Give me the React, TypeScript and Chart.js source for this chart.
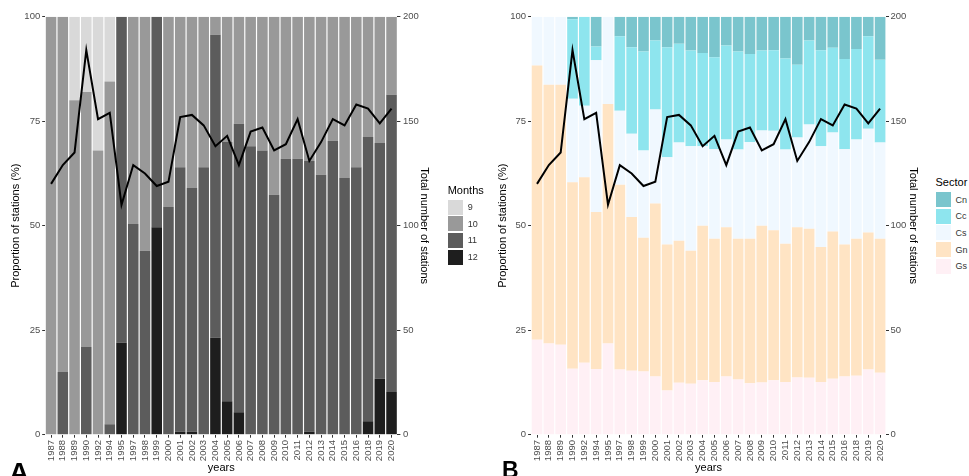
import React, { useEffect, useRef } from "react";
import { Chart, registerables } from "chart.js";

Chart.register(...registerables);

const years = ["1987","1988","1989","1990","1992","1994","1995","1997","1998","1999","2000","2001","2002","2003","2004","2005","2006","2007","2008","2009","2010","2011","2012","2013","2014","2015","2016","2018","2019","2020"];

// Panel A: proportion of stations by number of months (%)
const months9 = [0,0,20,18,32,15.5,0,0,0,0,0,0,0,0,0,0,0,0,0,0,0,0,0,0,0,0,0,0,0,0];
const months10 = [100,85,80,61,68,82,0,49.6,56,0,45.5,36,41,36,4.3,30,25.6,31,32,42.6,34,34,34.5,37.8,29.7,38.6,36,28.8,30.2,18.7];
const months11 = [0,15,0,21,0,2.5,78,50.4,44,50.4,54.5,63.3,58.3,64,72.5,62,69,69,68,57.4,66,66,64.8,62.2,70.3,61.4,64,68,56.4,71.1];
const months12 = [0,0,0,0,0,0,22,0,0,49.6,0,0.7,0.7,0,23.2,8,5.4,0,0,0,0,0,0.7,0,0,0,0,3.2,13.4,10.2];

// Total number of stations (right axis)
const totalStations = [120,129,135,184,151,154,110,129,125,119,121,152,153,148,138,143,129,145,147,136,139,151,131,140,151,148,158,156,149,156];

// Panel B: proportion of stations by sector (%)
const sectorGs = [22.7,21.8,21.5,15.8,17.2,15.7,21.8,15.6,15.3,15.1,13.9,10.6,12.4,12.2,13,12.6,13.9,13.2,12.3,12.5,13,12.6,13.7,13.6,12.6,13.4,13.9,14.1,15.6,14.8];
const sectorGn = [65.6,61.9,62.2,44.6,44.4,37.6,57.3,44.2,36.8,32,41.4,34.9,34,31.8,37,34.3,35.7,33.7,34.6,37.5,35.9,33.1,35.9,35.7,32.3,35.2,31.6,32.8,32.8,32.1];
const sectorCs = [11.7,16.3,16.3,20,17.1,36.3,20.9,17.7,19.9,20.9,22.5,20.9,23.5,25,19,21.4,21,21.3,23.1,22.8,23.8,22.5,21.5,24.9,24.1,23.7,22.8,23.7,24.8,23];
const sectorCc = [0,0,0,19,21.3,3.3,0,17.8,20.7,23.7,16.5,26.3,23.6,22.9,22.3,22,22.5,23.5,21.1,19.1,19.3,21.8,17.4,20.1,23,20.3,21.6,21.7,22.1,19.8];
const sectorCn = [0,0,0,0.6,0,7.1,0,4.7,7.3,8.3,5.7,7.3,6.5,8.1,8.7,9.7,6.9,8.3,8.9,8.1,8,10,11.5,5.7,8,7.4,10.1,7.7,4.7,10.3];

const monthLabels = ["9", "10", "11", "12"];
const monthColors = ["#D9D9D9", "#999999", "#5C5C5C", "#1E1E1E"];
const sectorLabels = ["Cn", "Cc", "Cs", "Gn", "Gs"];
const sectorColors = ["#7AC5CD", "#8EE5EE", "#F0F8FF", "#FFE4C4", "#FFF0F5"];

const FONT = "'Liberation Sans', Arial, Helvetica, sans-serif";

type Geo = {
  width: number; height: number;
  leftW: number; rightW: number; topPad: number; bottomH: number;
  leftTitlePad: number; rightTitlePad: number; leftTickPad: number; rightTickPad: number;
};

function buildConfig(bars: { label: string; data: number[]; color: string }[], g: Geo): any {
  const tickFont = { family: FONT, size: 9.5 };
  const titleFont = { family: FONT, size: 11 };
  const grid = { drawOnChartArea: false, drawTicks: true, tickLength: 3, color: "#333333", lineWidth: 1 };
  return {
    type: "bar",
    data: {
      labels: years,
      datasets: [
        {
          type: "line",
          label: "Total number of stations",
          data: totalStations,
          yAxisID: "y1",
          borderColor: "#000000",
          borderWidth: 2,
          pointRadius: 0,
          tension: 0,
          fill: false,
          order: 0,
        },
        ...bars.map((b) => ({
          type: "bar",
          label: b.label,
          data: b.data,
          backgroundColor: b.color,
          borderWidth: 0,
          barPercentage: 0.9,
          categoryPercentage: 1,
          yAxisID: "y",
          order: 1,
        })),
      ],
    },
    options: {
      responsive: false,
      animation: false,
      maintainAspectRatio: false,
      layout: { padding: { top: g.topPad, left: 0, right: 0, bottom: 0 } },
      plugins: { legend: { display: false }, tooltip: { enabled: false }, title: { display: false } },
      scales: {
        x: {
          stacked: true,
          offset: true,
          grid: { ...grid, offset: false },
          border: { display: false },
          ticks: { autoSkip: false, maxRotation: 90, minRotation: 90, color: "#4D4D4D", font: tickFont, padding: 2.3 },
          title: { display: true, text: "years", color: "#000000", font: titleFont, padding: { top: 0, bottom: 1.7 } },
          afterFit: (s: any) => { s.height = g.bottomH; },
        },
        y: {
          position: "left",
          stacked: true,
          min: 0,
          max: 100,
          grid,
          border: { display: false },
          ticks: { stepSize: 25, color: "#4D4D4D", font: tickFont, padding: g.leftTickPad },
          title: { display: true, text: "Proportion of stations (%)", color: "#000000", font: titleFont, padding: { top: g.leftTitlePad, bottom: 0 } },
          afterFit: (s: any) => { s.width = g.leftW; },
        },
        y1: {
          position: "right",
          stacked: false,
          min: 0,
          max: 200,
          grid,
          border: { display: false },
          ticks: { stepSize: 50, color: "#4D4D4D", font: tickFont, padding: g.rightTickPad },
          title: { display: true, text: "Total number of stations", color: "#000000", font: titleFont, padding: { top: g.rightTitlePad, bottom: 0 } },
          afterFit: (s: any) => { s.width = g.rightW; },
        },
      },
    },
  };
}

function Legend({ left, top, title, labels, colors }: { left: number; top: number; title: string; labels: string[]; colors: string[] }) {
  return (
    <div style={{ position: "absolute", left, top, fontFamily: FONT }}>
      <div style={{ fontSize: 11, lineHeight: "13px", color: "#000", whiteSpace: "nowrap" }}>{title}</div>
      {labels.map((l, i) => (
        <div key={l} style={{ position: "absolute", left: 0, top: 16 + i * 16.7, display: "flex", alignItems: "center", whiteSpace: "nowrap" }}>
          <div style={{ width: 15, height: 15, background: colors[i] }} />
          <div style={{ marginLeft: 5, fontSize: 9, color: "#333" }}>{l}</div>
        </div>
      ))}
    </div>
  );
}

export default function App() {
  const refA = useRef<HTMLCanvasElement | null>(null);
  const refB = useRef<HTMLCanvasElement | null>(null);

  useEffect(() => {
    const geoA: Geo = { width: 440, height: 476, leftW: 45.2, rightW: 42.6, topPad: 16.7, bottomH: 41.3, leftTitlePad: 9.4, rightTitlePad: 9.7, leftTickPad: 2, rightTickPad: 2.6 };
    const geoB: Geo = { width: 445, height: 476, leftW: 51.1, rightW: 39, topPad: 16.7, bottomH: 41.3, leftTitlePad: 16.1, rightTitlePad: 5.7, leftTickPad: 2, rightTickPad: 1.5 };
    const barsA = [
      { label: "12", data: months12, color: monthColors[3] },
      { label: "11", data: months11, color: monthColors[2] },
      { label: "10", data: months10, color: monthColors[1] },
      { label: "9", data: months9, color: monthColors[0] },
    ];
    const barsB = [
      { label: "Gs", data: sectorGs, color: sectorColors[4] },
      { label: "Gn", data: sectorGn, color: sectorColors[3] },
      { label: "Cs", data: sectorCs, color: sectorColors[2] },
      { label: "Cc", data: sectorCc, color: sectorColors[1] },
      { label: "Cn", data: sectorCn, color: sectorColors[0] },
    ];
    const a = new Chart(refA.current as HTMLCanvasElement, buildConfig(barsA, geoA));
    const b = new Chart(refB.current as HTMLCanvasElement, buildConfig(barsB, geoB));
    return () => { a.destroy(); b.destroy(); };
  }, []);

  return (
    <div style={{ position: "absolute", left: 0, top: 0, width: 969, height: 476, overflow: "hidden", background: "#fff" }}>
      <canvas ref={refA} width={440} height={476} style={{ position: "absolute", left: 0, top: 0, width: 440, height: 476 }} />
      <canvas ref={refB} width={445} height={476} style={{ position: "absolute", left: 480, top: 0, width: 445, height: 476 }} />
      <Legend left={447.7} top={183.5} title="Months" labels={monthLabels} colors={monthColors} />
      <Legend left={935.5} top={176} title="Sector" labels={sectorLabels} colors={sectorColors} />
      <div style={{ position: "absolute", left: 9, top: 459, fontFamily: FONT, fontWeight: "bold", fontSize: 28, lineHeight: 1, color: "#000" }}>A</div>
      <div style={{ position: "absolute", left: 502, top: 459, fontFamily: FONT, fontWeight: "bold", fontSize: 23, lineHeight: 1, color: "#000" }}>B</div>
    </div>
  );
}
